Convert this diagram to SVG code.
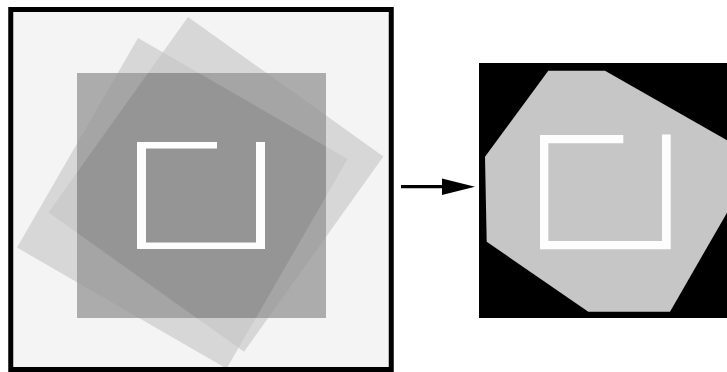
<svg xmlns="http://www.w3.org/2000/svg" width="727" height="372" viewBox="0 0 727 372">
  <style>
    .frame { fill: none; stroke: #000; stroke-width: 5; }
    .bracket { fill: #fdfdfd; }
    .conn { fill: none; stroke: #000; stroke-width: 3.2; }
    .head { fill: #000; }
  </style>
  <defs>
    <!-- the two rotated copies of the square -->
    <polygon id="sqB" points="138,38 347.6,159 226.6,368.6 17,247.6"/>
    <polygon id="sqC" points="188,17 383.4,156.4 244,351.8 48.6,212.4"/>
    <clipPath id="clipA"><rect x="77" y="73" width="249" height="245"/></clipPath>
    <clipPath id="clipB"><polygon points="138,38 347.6,159 226.6,368.6 17,247.6"/></clipPath>
    <clipPath id="clipFrame"><rect x="13" y="12" width="376" height="356"/></clipPath>
    <marker id="head" markerUnits="userSpaceOnUse" markerWidth="34" markerHeight="17" refX="18" refY="8.25" orient="auto">
      <path class="head" d="M0,0 L33,8.25 L0,16.5 Z"/>
    </marker>
  </defs>

  <rect width="727" height="372" fill="#fff"/>

  <!-- left frame: axis-aligned square overlaid with two rotated copies -->
  <g id="source-frame">
    <rect x="13" y="12" width="376" height="356" fill="#f4f4f4"/>
    <g clip-path="url(#clipFrame)">
      <use href="#sqB" fill="#d7d7d7"/>
      <use href="#sqC" fill="#d7d7d7"/>
      <g clip-path="url(#clipB)"><use href="#sqC" fill="#cccccc"/></g>
      <rect x="77" y="73" width="249" height="245" fill="#acacac"/>
      <g clip-path="url(#clipA)">
        <use href="#sqB" fill="#a5a5a5"/>
        <use href="#sqC" fill="#a5a5a5"/>
        <g clip-path="url(#clipB)"><use href="#sqC" fill="#959595"/></g>
      </g>
    </g>
    <path class="bracket" d="M137,142 H217 V148.5 H146 V242.5 H256 V142 H265 V249 H137 Z"/>
    <rect class="frame" x="10.75" y="9.5" width="380.5" height="360"/>
  </g>

  <!-- right frame: combined mask -->
  <g id="mask">
    <rect x="479" y="63" width="248" height="255" fill="#000"/>
    <polygon points="548.3,70.7 605,70.7 727,140.2 727,212.7 670,311.7 588.3,311.7 486.7,241.7 485,156.7" fill="#c6c6c6"/>
    <path class="bracket" d="M540,135 H623.3 V143.3 H548.3 V241 H662 V134.5 H670.7 V249.3 H540 Z"/>
  </g>

  <g id="connectors">
    <line class="conn" x1="401" y1="186.7" x2="460" y2="186.7" marker-end="url(#head)"/>
  </g>
</svg>
